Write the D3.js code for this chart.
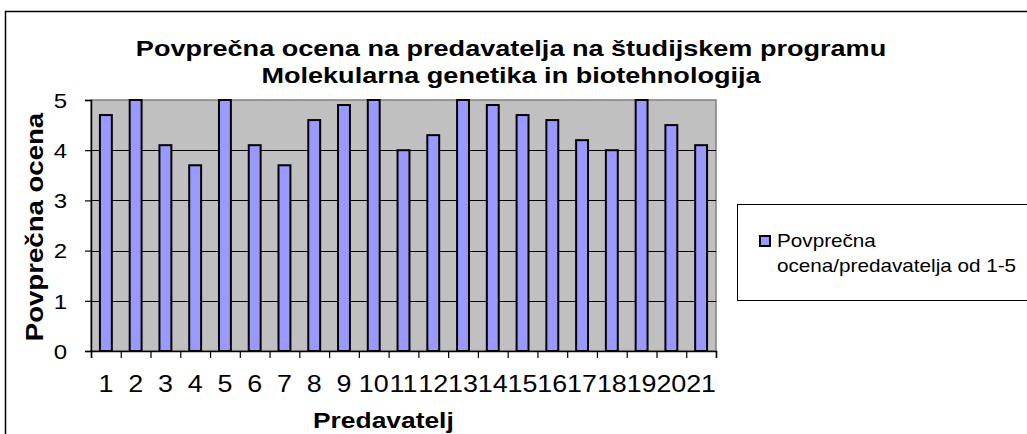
<!DOCTYPE html>
<html>
<head>
<meta charset="utf-8">
<script src="https://cdn.jsdelivr.net/npm/d3@7"></script>
<style>
  body { margin: 0; background: #fff; }
  text { font-family: "Liberation Sans", Arial, sans-serif; fill: #000; }
</style>
</head>
<body>
<div id="chart"></div>
<script>
const categories = ["1","2","3","4","5","6","7","8","9","10","11","12","13","14","15","16","17","18","19","20","21"];
const values = [4.7, 5, 4.1, 3.7, 5, 4.1, 3.7, 4.6, 4.9, 5, 4.0, 4.3, 5, 4.9, 4.7, 4.6, 4.2, 4.0, 5, 4.5, 4.1];
const yTicks = [0, 1, 2, 3, 4, 5];
const titleLines = ["Povprečna ocena na predavatelja na študijskem programu", "Molekularna genetika in biotehnologija"];
const legendLines = ["Povprečna", "ocena/predavatelja od  1-5"];

const width = 1027, height = 434;
const plot = {left: 91, top: 100, right: 716, bottom: 351};
// the old chart renderer draws its glyphs wider than Arial
const wide = 1.2;

const svg = d3.select("#chart").append("svg")
  .attr("width", width)
  .attr("height", height);

// outer chart frame
svg.append("rect")
  .attr("x", 5.5).attr("y", 11.5)
  .attr("width", 1040).attr("height", 440)
  .attr("fill", "#fff")
  .attr("stroke", "#000")
  .attr("stroke-width", 1.5);

const x = d3.scaleBand()
  .domain(categories)
  .range([plot.left, plot.right])
  .paddingInner(0.6)
  .paddingOuter(0.3);

const xEdge = d3.scaleLinear()
  .domain([0, categories.length])
  .range([plot.left, plot.right]);

const y = d3.scaleLinear()
  .domain([0, 5])
  .range([plot.bottom, plot.top]);

// plot background
svg.append("rect")
  .attr("x", plot.left).attr("y", plot.top)
  .attr("width", plot.right - plot.left)
  .attr("height", plot.bottom - plot.top)
  .attr("fill", "#c0c0c0")
  .attr("stroke", "#808080")
  .attr("stroke-width", 1.5);

// gridlines
svg.append("g")
  .selectAll("line")
  .data(yTicks.filter(d => d > 0 && d < 5))
  .enter()
  .append("line")
    .attr("x1", plot.left).attr("x2", plot.right)
    .attr("y1", d => Math.round(y(d)) + 0.5)
    .attr("y2", d => Math.round(y(d)) + 0.5)
    .attr("stroke", "#000")
    .attr("stroke-width", 1.2);

// bars
svg.append("g")
  .selectAll("rect")
  .data(values)
  .enter()
  .append("rect")
    .attr("x", (d, i) => x(categories[i]))
    .attr("y", d => y(d))
    .attr("width", x.bandwidth())
    .attr("height", d => y(0) - y(d))
    .attr("fill", "#9999ff")
    .attr("stroke", "#000")
    .attr("stroke-width", 2);

// y axis
const yAxis = svg.append("g")
  .attr("transform", "translate(" + plot.left + ",0)")
  .call(d3.axisLeft(y).tickValues(yTicks).tickSize(6).tickFormat(d3.format("d")));
yAxis.select(".domain").attr("stroke", "#000").attr("stroke-width", 1.5);
yAxis.selectAll(".tick line").attr("stroke", "#000").attr("stroke-width", 1.2);
yAxis.selectAll("text")
  .attr("x", -24 / wide)
  .attr("dy", "0.36em")
  .attr("transform", "scale(" + wide + ",1)")
  .style("font-size", "20px");

// x axis: ticks on category edges, labels in the middle
const xTickAxis = svg.append("g")
  .attr("transform", "translate(0," + plot.bottom + ")")
  .call(d3.axisBottom(xEdge).tickValues(d3.range(categories.length + 1)).tickSize(7).tickFormat(""));
xTickAxis.select(".domain").attr("stroke", "#000").attr("stroke-width", 1.5);
xTickAxis.selectAll(".tick line").attr("stroke", "#000").attr("stroke-width", 1.2);

const xAxis = svg.append("g")
  .attr("transform", "translate(0," + plot.bottom + ")")
  .call(d3.axisBottom(x).tickSize(0).tickPadding(24));
xAxis.select(".domain").remove();
xAxis.selectAll("text")
  .attr("transform", "scale(1.12,1)")
  .style("font-size", "24px");

// title
svg.append("g")
  .selectAll("text")
  .data(titleLines)
  .enter()
  .append("text")
    .attr("transform", (d, i) => "translate(511," + (56 + i * 27) + ") scale(1.23,1)")
    .attr("text-anchor", "middle")
    .style("font-size", "22px")
    .style("font-weight", "bold")
    .text(d => d);

// axis titles
svg.append("text")
  .attr("transform", "translate(313,428) scale(" + wide + ",1)")
  .style("font-size", "22px")
  .style("font-weight", "bold")
  .text("Predavatelj");

svg.append("text")
  .attr("transform", "translate(43,227) rotate(-90) scale(" + wide + ",1)")
  .attr("text-anchor", "middle")
  .style("font-size", "23px")
  .style("font-weight", "bold")
  .text("Povprečna ocena");

// legend
const legend = svg.append("g");
legend.append("rect")
  .attr("x", 737.5).attr("y", 204.5)
  .attr("width", 300).attr("height", 96)
  .attr("fill", "#fff")
  .attr("stroke", "#000")
  .attr("stroke-width", 1);
legend.append("rect")
  .attr("x", 760).attr("y", 236)
  .attr("width", 10).attr("height", 10)
  .attr("fill", "#9999ff")
  .attr("stroke", "#000")
  .attr("stroke-width", 2);
legend.selectAll("text.item")
  .data(legendLines)
  .enter()
  .append("text")
    .attr("class", "item")
    .attr("transform", (d, i) => "translate(777," + (247 + i * 25) + ") scale(1.15,1)")
    .style("font-size", "18px")
    .text(d => d);
</script>
</body>
</html>
